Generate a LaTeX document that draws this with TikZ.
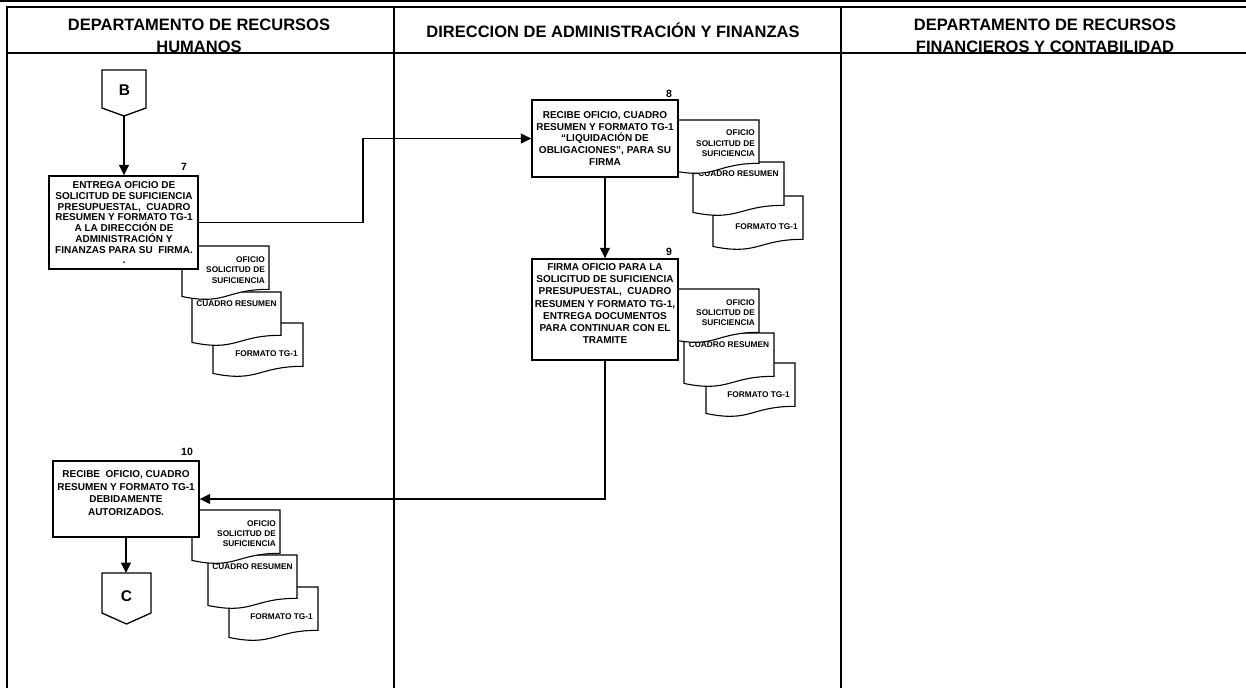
\documentclass[tikz,border=0pt]{standalone}
\usepackage{fontspec}
\setmainfont{Liberation Sans}
\usetikzlibrary{arrows.meta}
\newcommand\mydoc[4]{%
  \path[docst] (#1,#2) -- (#3,#2) -- (#3,{#2+0.802*#4})
    .. controls ({(#1+#3)/2},{#2+0.802*#4}) and ({(#1+#3)/2},{#2+1.1075*#4}) .. (#1,{#2+0.934*#4}) -- cycle;}
\begin{document}
\begin{tikzpicture}[x=1pt,y=-1pt,
  frame/.style={line width=2pt},
  boxst/.style={draw, line width=1.4pt, fill=white, inner sep=0pt},
  btext/.style={align=center, inner sep=0pt, anchor=north},
  num/.style={font=\fontsize{10.5}{12}\selectfont\bfseries, inner sep=0pt},
  docst/.style={draw, line width=1.1pt, fill=white},
  dtext/.style={font=\fontsize{8.3}{10.4}\selectfont\bfseries, inner sep=0pt},
  conn/.style={line width=1.3pt},
  arr/.style={conn, -{Triangle[length=10.5pt,width=10pt]}},
  hdr/.style={font=\fontsize{16.5}{22}\selectfont\bfseries, align=center, inner sep=0pt},
  offp/.style={draw, line width=1.3pt, fill=white},
  otext/.style={font=\fontsize{15.5}{16}\selectfont\bfseries, inner sep=0pt},
]
\useasboundingbox (0,0) rectangle (1246,688);

% ---------- frame and headers ----------
\node[hdr, anchor=north] (h1) at (199,18.3) {DEPARTAMENTO DE RECURSOS\\HUMANOS};
\node[hdr, anchor=base] (h2) at (613,37) {DIRECCION DE ADMINISTRACIÓN Y FINANZAS};
\node[hdr, anchor=north] (h3) at (1045,18.3) {DEPARTAMENTO DE RECURSOS\\FINANCIEROS Y CONTABILIDAD};
\draw[line width=1.5pt] (0,1) -- (1246,1);
\draw[frame] (7,688) -- (7,6.5) -- (1246,6.5);
\draw[line width=2.2pt] (7,53) -- (1246,53);
\draw[frame] (394,6.5) -- (394,688);
\draw[frame] (841,6.5) -- (841,688);

% ---------- connector B ----------
\draw[offp] (102,70) -- (146,70) -- (146,108) -- (124,116) -- (102,108) -- cycle;
\node[otext] (B) at (124.5,90.5) {B};
\coordinate (Bp) at (124,116);

% ---------- documents, step 7 ----------
\mydoc{213}{323}{303}{54}
\node[dtext, anchor=east] (d7c) at (298,354) {FORMATO TG-1};
\mydoc{192}{292}{281}{54}
\node[dtext] (d7b) at (236.5,303.5) {CUADRO RESUMEN};
\mydoc{182}{246}{269}{54}
\node[dtext, align=right, anchor=north east] (d7a) at (265,256.5) {OFICIO\\SOLICITUD DE\\SUFICIENCIA};

% ---------- documents, step 8 ----------
\mydoc{713}{196}{803}{54}
\node[dtext, anchor=east] (d8c) at (798,227) {FORMATO TG-1};
\mydoc{693}{162}{784}{54}
\node[dtext] (d8b) at (738.5,173.5) {CUADRO RESUMEN};
\mydoc{672}{120}{759}{54}
\node[dtext, align=right, anchor=north east] (d8a) at (755,130) {OFICIO\\SOLICITUD DE\\SUFICIENCIA};

% ---------- documents, step 9 ----------
\mydoc{706}{363}{795}{54}
\node[dtext, anchor=east] (d9c) at (790,395) {FORMATO TG-1};
\mydoc{684}{333}{774}{54}
\node[dtext] (d9b) at (729,344.5) {CUADRO RESUMEN};
\mydoc{672}{289}{759}{54}
\node[dtext, align=right, anchor=north east] (d9a) at (755,299) {OFICIO\\SOLICITUD DE\\SUFICIENCIA};

% ---------- documents, step 10 ----------
\mydoc{229}{587}{318}{54}
\node[dtext, anchor=east] (d10c) at (313,617) {FORMATO TG-1};
\mydoc{208}{555}{297}{54}
\node[dtext] (d10b) at (252.5,566.5) {CUADRO RESUMEN};
\mydoc{192}{510}{280}{54}
\node[dtext, align=right, anchor=north east] (d10a) at (276,520) {OFICIO\\SOLICITUD DE\\SUFICIENCIA};

% ---------- process boxes ----------
\node[boxst, minimum width=149pt, minimum height=93pt] (b7) at (123.5,222.5) {};
\node[btext, font=\fontsize{10}{10.7}\selectfont\bfseries] (t7) at (124,181.7)
  {ENTREGA OFICIO DE\\SOLICITUD DE SUFICIENCIA\\PRESUPUESTAL,~~CUADRO\\RESUMEN Y FORMATO TG-1\\A LA DIRECCIÓN DE\\ADMINISTRACIÓN Y\\FINANZAS PARA SU~~FIRMA.\\.};
\node[num] (n7) at (184,167) {7};

\node[boxst, minimum width=146pt, minimum height=77pt] (b8) at (605,138.5) {};
\node[btext, font=\fontsize{10}{11.7}\selectfont\bfseries] (t8) at (605,111.4)
  {RECIBE OFICIO, CUADRO\\RESUMEN Y FORMATO TG-1\\“LIQUIDACIÓN DE\\OBLIGACIONES”, PARA SU\\FIRMA};
\node[num] (n8) at (669,94) {8};

\node[boxst, minimum width=146pt, minimum height=101pt] (b9) at (605,309.5) {};
\node[btext, font=\fontsize{10}{12.2}\selectfont\bfseries] (t9) at (605,263.4)
  {FIRMA OFICIO PARA LA\\SOLICITUD DE SUFICIENCIA\\PRESUPUESTAL,~~CUADRO\\RESUMEN Y FORMATO TG-1,\\ENTREGA DOCUMENTOS\\PARA CONTINUAR CON EL\\TRAMITE};
\node[num] (n9) at (669,252) {9};

\node[boxst, minimum width=146pt, minimum height=76pt] (b10) at (126,499) {};
\node[btext, font=\fontsize{10}{12.7}\selectfont\bfseries] (t10) at (126,470.4)
  {RECIBE~~OFICIO, CUADRO\\RESUMEN Y FORMATO TG-1\\DEBIDAMENTE\\AUTORIZADOS.};
\node[num] (n10) at (187,452) {10};

% ---------- connector C ----------
\draw[offp] (102,573) -- (151,573) -- (151,613) -- (126.5,624) -- (102,613) -- cycle;
\node[otext] (C) at (126.5,596) {C};
\coordinate (Ctop) at (126,573);

% ---------- connectors ----------
\coordinate (j1) at (363,300);
\draw[arr] (Bp) -- (Bp |- b7.north);
\draw[arr] (b7.east) -- (b7.east -| j1) |- (b8.west);
\draw[arr] (b8.south) -- (b9.north);
\draw[arr] (b9.south) |- (b10.east);
\draw[arr] (b10.south) -- (Ctop);
\end{tikzpicture}
\end{document}
